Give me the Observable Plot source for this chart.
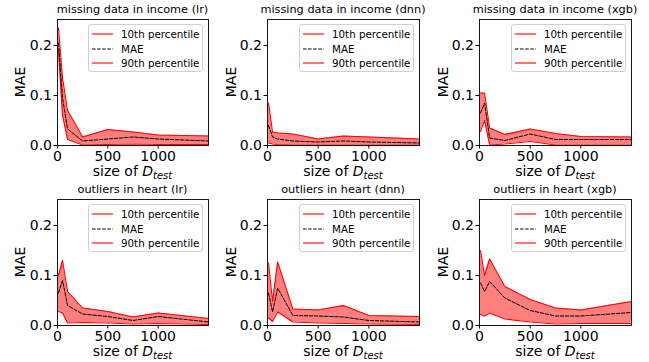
<!DOCTYPE html>
<html>
<head>
<meta charset="utf-8">
<script src="https://cdn.jsdelivr.net/npm/d3@7"></script>
<script src="https://cdn.jsdelivr.net/npm/@observablehq/plot@0.6"></script>
<style>
  body { margin: 0; background: #fff; font-family: "DejaVu Sans", sans-serif; }
  #chart { position: relative; width: 649px; height: 362px; overflow: hidden; background: #fff; }
  .panel { position: absolute; }
  .title { position: absolute; font-size: 11.3px; line-height: 12px; text-align: center; white-space: nowrap; color: #000; }
  .xlabel { position: absolute; font-size: 14px; line-height: 14px; text-align: center; white-space: nowrap; color: #000; }
  .xlabel sub { font-size: 10px; font-style: italic; vertical-align: -3px; line-height: 0; }
  .ylabel { position: absolute; font-size: 14px; line-height: 16px; white-space: nowrap; color: #000; transform: translate(-50%, -50%) rotate(-90deg); }
  .legend { position: absolute; box-sizing: border-box; border: 1px solid #d0d0d0; border-radius: 3px; background: rgba(255,255,255,0.8); font-size: 10.3px; color: #000; }
  .legend .row { position: absolute; left: 0; height: 12px; line-height: 12px; white-space: nowrap; }
  .legend svg { position: absolute; left: 3px; top: 0; }
  .legend span { position: absolute; left: 32px; top: 0; }
</style>
</head>
<body>
<div id="chart"></div>
<script>
// ---- data ----
const sizes = [10, 50, 100, 250, 500, 750, 1000, 1500];
const xTicks = [0, 500, 1000];
const yTicks = [0, 0.1, 0.2];
const titles = [
  "missing data in income (lr)", "missing data in income (dnn)", "missing data in income (xgb)",
  "outliers in heart (lr)", "outliers in heart (dnn)", "outliers in heart (xgb)"
];
const legendLabels = ["10th percentile", "MAE", "90th percentile"];

const incomeLrP10  = [0.190, 0.060, 0.012, 0.001, 0.002, 0.003, 0.002, 0.002];
const incomeLrMae  = [0.205, 0.095, 0.033, 0.009, 0.013, 0.017, 0.013, 0.009];
const incomeLrP90  = [0.235, 0.135, 0.070, 0.017, 0.032, 0.027, 0.021, 0.019];

const incomeDnnP10 = [0.005, 0.003, 0.002, 0.001, 0.001, 0.001, 0.001, 0.001];
const incomeDnnMae = [0.040, 0.017, 0.013, 0.009, 0.007, 0.009, 0.007, 0.005];
const incomeDnnP90 = [0.085, 0.027, 0.025, 0.023, 0.013, 0.019, 0.017, 0.013];

const incomeXgbP10 = [0.028, 0.050, 0.001, 0.003, 0.008, 0.001, 0.001, 0.001];
const incomeXgbMae = [0.065, 0.085, 0.015, 0.010, 0.023, 0.012, 0.012, 0.012];
const incomeXgbP90 = [0.105, 0.105, 0.035, 0.022, 0.033, 0.024, 0.018, 0.017];

const heartLrP10   = [0.028, 0.025, 0.005, 0.006, 0.005, 0.003, 0.004, 0.002];
const heartLrMae   = [0.065, 0.090, 0.040, 0.023, 0.018, 0.010, 0.018, 0.007];
const heartLrP90   = [0.100, 0.130, 0.068, 0.035, 0.028, 0.017, 0.025, 0.014];

const heartDnnP10  = [0.015, 0.008, 0.027, 0.007, 0.005, 0.004, 0.003, 0.002];
const heartDnnMae  = [0.065, 0.027, 0.075, 0.020, 0.019, 0.017, 0.010, 0.007];
const heartDnnP90  = [0.125, 0.048, 0.127, 0.033, 0.031, 0.040, 0.020, 0.018];

const heartXgbP10  = [0.022, 0.019, 0.025, 0.013, 0.007, 0.003, 0.004, 0.004];
const heartXgbMae  = [0.085, 0.068, 0.088, 0.055, 0.030, 0.019, 0.019, 0.026];
const heartXgbP90  = [0.150, 0.100, 0.133, 0.078, 0.052, 0.035, 0.031, 0.048];

const series = [
  [incomeLrP10, incomeLrMae, incomeLrP90],
  [incomeDnnP10, incomeDnnMae, incomeDnnP90],
  [incomeXgbP10, incomeXgbMae, incomeXgbP90],
  [heartLrP10, heartLrMae, heartLrP90],
  [heartDnnP10, heartDnnMae, heartDnnP90],
  [heartXgbP10, heartXgbMae, heartXgbP90]
];

// ---- layout ----
const colL = [57, 267, 479];
const colW = [151, 152, 152];
const rowT = [19, 199];
const H = 126;
const ml = 50, mr = 4, mt = 4, mb = 20;

const chart = document.getElementById("chart");
const font = "DejaVu Sans, sans-serif";

series.forEach(([p10, mae, p90], i) => {
  const col = i % 3, row = Math.floor(i / 3);
  const L = colL[col], T = rowT[row], W = colW[col];
  const data = sizes.map((s, k) => ({x: s, p10: p10[k], mae: mae[k], p90: p90[k]}));

  const svg = Plot.plot({
    width: W + ml + mr,
    height: H + mt + mb,
    marginLeft: ml, marginRight: mr, marginTop: mt, marginBottom: mb,
    style: {fontFamily: font, fontSize: "14px", color: "#000", background: "transparent", overflow: "visible"},
    x: {domain: [0, 1500]},
    y: {domain: [0, 0.252]},
    marks: [
      Plot.areaY(data, {x: "x", y1: "p10", y2: "p90", fill: "#ff0000", fillOpacity: 0.5, curve: "linear"}),
      Plot.lineY(data, {x: "x", y: "p10", stroke: "#ff0000", strokeWidth: 1.1}),
      Plot.lineY(data, {x: "x", y: "p90", stroke: "#ff0000", strokeWidth: 1.1}),
      Plot.lineY(data, {x: "x", y: "mae", stroke: "#000", strokeWidth: 1, strokeDasharray: "3.5,1.6"}),
      Plot.axisX({ticks: xTicks, tickSize: 3.5, tickPadding: 2, label: null, fontSize: 14, tickFormat: d3.format("d")}),
      Plot.axisY({ticks: yTicks, tickSize: 3.5, tickPadding: 2, label: null, fontSize: 14, tickFormat: d3.format(".1f")}),
      Plot.frame({stroke: "#000", strokeWidth: 0.9})
    ]
  });
  svg.classList.add("panel");
  svg.style.left = (L - ml) + "px";
  svg.style.top = (T - mt) + "px";
  chart.appendChild(svg);

  const t = document.createElement("div");
  t.className = "title";
  t.textContent = titles[i];
  t.style.left = (L - 30) + "px";
  t.style.width = (W + 60) + "px";
  t.style.top = (T - 15) + "px";
  chart.appendChild(t);

  const xl = document.createElement("div");
  xl.className = "xlabel";
  xl.innerHTML = "size of <i>D</i><sub>test</sub>";
  xl.style.left = (L - 20) + "px";
  xl.style.width = (W + 40) + "px";
  xl.style.top = (T + H + 19) + "px";
  chart.appendChild(xl);

  const yl = document.createElement("div");
  yl.className = "ylabel";
  yl.textContent = "MAE";
  yl.style.left = (L - (col === 0 ? 37 : 36)) + "px";
  yl.style.top = (T + H / 2) + "px";
  chart.appendChild(yl);

  const lg = document.createElement("div");
  lg.className = "legend";
  const lw = 115, lh = 48;
  lg.style.left = (L + W - 5 - lw) + "px";
  lg.style.top = (T + 5) + "px";
  lg.style.width = lw + "px";
  lg.style.height = lh + "px";
  const styles = [
    {stroke: "#ff0000", dash: null},
    {stroke: "#000", dash: "3.5,1.6"},
    {stroke: "#ff0000", dash: null}
  ];
  legendLabels.forEach((lab, k) => {
    const r = document.createElement("div");
    r.className = "row";
    r.style.top = (3 + k * 14.6) + "px";
    r.style.width = lw + "px";
    const st = styles[k];
    r.innerHTML = `<svg width="24" height="12"><line x1="0" x2="21" y1="6" y2="6" stroke="${st.stroke}" stroke-width="${k === 1 ? 1 : 1.1}" ${st.dash ? `stroke-dasharray="${st.dash}"` : ""}/></svg><span>${lab}</span>`;
    lg.appendChild(r);
  });
  chart.appendChild(lg);
});
</script>
</body>
</html>
